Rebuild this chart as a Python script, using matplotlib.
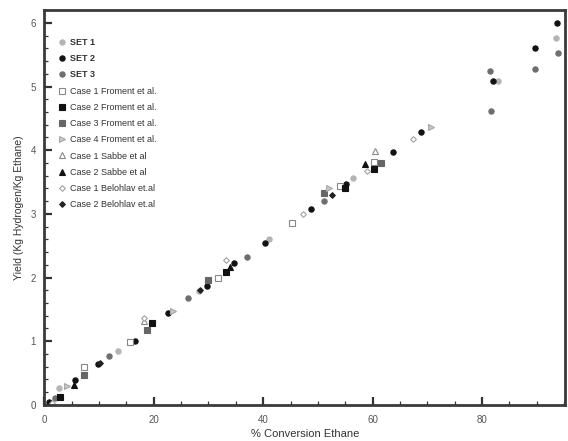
import numpy as np
import matplotlib
matplotlib.use("Agg")
from matplotlib import pyplot as plt
from matplotlib.ticker import MultipleLocator

plt.rcParams['font.family'] = ['Liberation Sans', 'DejaVu Sans']

# Ausbeute gegen Umsatz, je Datensatz
set1_x = [2.6, 13.4, 28.3, 41.0, 56.5, 82.9, 93.6]
set1_y = [0.26, 0.85, 1.79, 2.60, 3.57, 5.08, 5.76]
set2_x = [0.8, 5.7, 9.9, 16.5, 22.7, 29.7, 34.6, 40.4, 48.8, 55.2, 63.7, 68.9, 82.1, 89.6, 93.7]
set2_y = [0.05, 0.39, 0.64, 1.00, 1.44, 1.87, 2.23, 2.54, 3.08, 3.47, 3.97, 4.29, 5.08, 5.60, 6.00]
set3_x = [2.0, 11.8, 26.2, 37.1, 51.2, 81.4, 81.7, 89.6, 93.8]
set3_y = [0.11, 0.76, 1.68, 2.33, 3.20, 5.25, 4.62, 5.28, 5.53]
froment1_x = [7.2, 15.6, 31.7, 45.3, 54.0, 60.2]
froment1_y = [0.60, 0.98, 1.99, 2.85, 3.43, 3.81]
froment2_x = [2.9, 19.7, 33.3, 55.0, 60.2]
froment2_y = [0.13, 1.28, 2.09, 3.41, 3.70]
froment3_x = [7.2, 18.8, 30.0, 51.2, 61.5]
froment3_y = [0.47, 1.18, 1.96, 3.33, 3.80]
froment4_x = [4.2, 23.6, 52.0, 70.6]
froment4_y = [0.29, 1.48, 3.41, 4.36]
sabbe1_x = [18.3, 60.4]
sabbe1_y = [1.31, 3.98]
sabbe2_x = [5.4, 34.0, 58.6]
sabbe2_y = [0.31, 2.17, 3.79]
belohlav1_x = [1.4, 18.2, 33.3, 47.3, 59.0, 67.3]
belohlav1_y = [0.03, 1.36, 2.28, 2.99, 3.67, 4.17]
belohlav2_x = [10.2, 28.5, 52.6]
belohlav2_y = [0.66, 1.80, 3.29]

serien = [
    ("SET 1", set1_x, set1_y, 'o', '#b4b4b4', '#b4b4b4'),
    ("SET 2", set2_x, set2_y, 'o', '#111111', '#111111'),
    ("SET 3", set3_x, set3_y, 'o', '#6e6e6e', '#6e6e6e'),
    ("Case 1 Froment et al.", froment1_x, froment1_y, 's', 'white', '#888888'),
    ("Case 2 Froment et al.", froment2_x, froment2_y, 's', '#111111', '#111111'),
    ("Case 3 Froment et al.", froment3_x, froment3_y, 's', '#666666', '#666666'),
    ("Case 4 Froment et al.", froment4_x, froment4_y, '>', '#c8c8c8', '#a8a8a8'),
    ("Case 1 Sabbe et al", sabbe1_x, sabbe1_y, '^', 'white', '#888888'),
    ("Case 2 Sabbe et al", sabbe2_x, sabbe2_y, '^', '#111111', '#111111'),
    ("Case 1 Belohlav et.al", belohlav1_x, belohlav1_y, 'D', 'white', '#a0a0a0'),
    ("Case 2 Belohlav et.al", belohlav2_x, belohlav2_y, 'D', '#222222', '#222222'),
]

fig = plt.figure(figsize=(5.68, 4.41), dpi=100)
ax = fig.add_axes([0.078, 0.082, 0.917, 0.895])

for name, xs, ys, m, fc, ec in serien:
    ms = 2.9 if m == 'D' else 3.8
    ax.plot(xs, ys, linestyle='none', marker=m, markersize=ms,
            markerfacecolor=fc, markeredgecolor=ec, markeredgewidth=0.8,
            label=name)

ax.set_xlim(0, 95.2)
ax.set_ylim(0, 6.2)
ax.xaxis.set_major_locator(MultipleLocator(20))
ax.xaxis.set_minor_locator(MultipleLocator(5))
ax.yaxis.set_major_locator(MultipleLocator(1))
ax.yaxis.set_minor_locator(MultipleLocator(0.2))
ax.tick_params(which='both', direction='in', colors='#333333', labelcolor='#555555',
               labelsize=7)
ax.tick_params(which='major', length=6, width=1.6)
ax.tick_params(which='minor', length=3, width=0.9)
ax.tick_params(axis='x', which='major', pad=7)
ax.tick_params(axis='y', which='major', pad=6)
for s in ax.spines.values():
    s.set_linewidth(2.0)
    s.set_color('#3a3a3a')

ax.set_xlabel("% Conversion Ethane", fontsize=8, color='#333333', labelpad=3)
ax.set_ylabel("Yield (Kg Hydrogen/Kg Ethane)", fontsize=7.5, color='#333333', labelpad=5)

leg = ax.legend(loc='upper left', bbox_to_anchor=(0.01, 0.95), frameon=False,
                fontsize=6.5, handletextpad=0.4, labelspacing=0.8,
                handlelength=1.0, borderaxespad=0.5)
for t in leg.get_texts():
    t.set_color('#333333')
    if t.get_text().startswith("SET"):
        t.set_fontweight('bold')

fig.savefig("out.png", dpi=100)
